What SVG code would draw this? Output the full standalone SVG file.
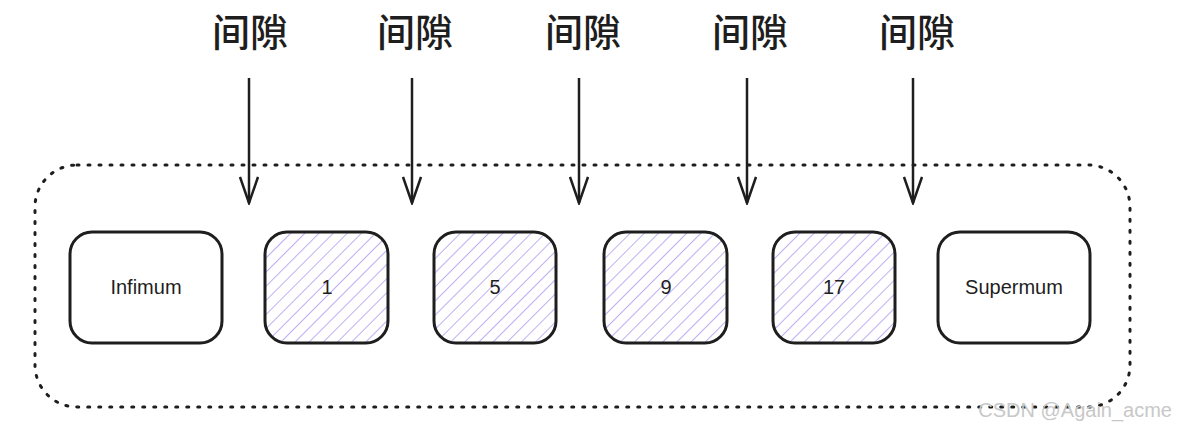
<svg xmlns="http://www.w3.org/2000/svg" width="1177" height="429" viewBox="0 0 1177 429">
<defs>
<pattern id="hatch" width="10" height="10" patternUnits="userSpaceOnUse" patternTransform="rotate(45)">
<line x1="0" y1="0" x2="0" y2="10" stroke="#b9a5f2" stroke-width="1.8"/>
</pattern>
<marker id="ah" markerWidth="30" markerHeight="20" refX="28" refY="10" orient="auto" markerUnits="userSpaceOnUse" viewBox="0 0 30 20">
<path d="M2 1 L28 10 L2 19" fill="none" stroke="#1e1e1e" stroke-width="2.5"/>
</marker>
<style>
.box{stroke:#1e1e1e;stroke-width:3;}
.t{font-family:"Comic Sans MS","Liberation Sans",sans-serif;font-size:20px;fill:#1e1e1e;text-anchor:middle;}
.g{font-family:"Noto Sans CJK SC",sans-serif;font-size:38px;font-weight:500;fill:#1e1e1e;text-anchor:middle;}
.arr{stroke:#1e1e1e;stroke-width:2.5;fill:none;marker-end:url(#ah);}
</style>
</defs>
<rect width="1177" height="429" fill="#fff"/>
<rect id="container" x="35" y="165" width="1095" height="242" rx="42" fill="none" stroke="#1e1e1e" stroke-width="3" stroke-dasharray="2 9" stroke-linecap="round"/>
<g id="n-inf"><rect class="box" x="70" y="232" width="152" height="111" rx="22" fill="#fff"/><text class="t" x="146" y="294">Infimum</text></g>
<g id="n-1"><rect class="box" x="265" y="232" width="123" height="111" rx="22" fill="url(#hatch)"/><text class="t" x="327" y="294">1</text></g>
<g id="n-5"><rect class="box" x="434" y="232" width="122" height="111" rx="22" fill="url(#hatch)"/><text class="t" x="495" y="294">5</text></g>
<g id="n-9"><rect class="box" x="604" y="232" width="123" height="111" rx="22" fill="url(#hatch)"/><text class="t" x="666" y="294">9</text></g>
<g id="n-17"><rect class="box" x="773" y="232" width="122" height="111" rx="22" fill="url(#hatch)"/><text class="t" x="834" y="294">17</text></g>
<g id="n-sup"><rect class="box" x="938" y="232" width="152" height="111" rx="22" fill="#fff"/><text class="t" x="1014" y="294">Supermum</text></g>
<g id="labels">
<text class="g" x="250" y="46">间隙</text>
<text class="g" x="415" y="46">间隙</text>
<text class="g" x="583" y="46">间隙</text>
<text class="g" x="750" y="46">间隙</text>
<text class="g" x="917" y="46">间隙</text>
</g>
<g id="connectors">
<line class="arr" x1="249" y1="78" x2="249" y2="203"/>
<line class="arr" x1="412" y1="78" x2="412" y2="203"/>
<line class="arr" x1="579" y1="78" x2="579" y2="203"/>
<line class="arr" x1="747" y1="78" x2="747" y2="203"/>
<line class="arr" x1="913" y1="78" x2="913" y2="203"/>
</g>
<text x="1172" y="417" font-family="Liberation Sans,sans-serif" font-size="20" fill="#c8c8c8" text-anchor="end">CSDN @Again_acme</text>
</svg>
